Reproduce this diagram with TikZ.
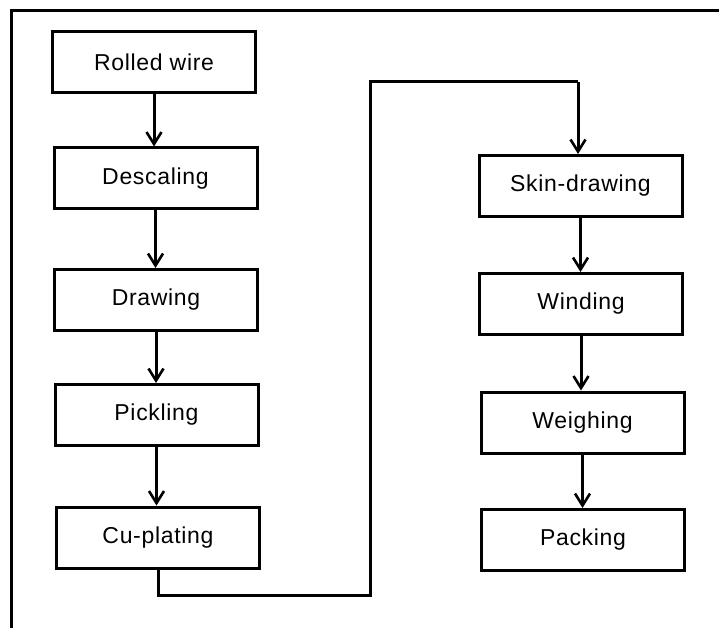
\documentclass[tikz,border=0pt]{standalone}
\usepackage{fontspec}
\setmainfont{Liberation Sans}[LetterSpace=3]
\usetikzlibrary{arrows.meta}
\begin{document}
\begin{tikzpicture}[x=1pt,y=-1pt,
  stepbox/.style={draw,line width=3pt,minimum width=203pt,minimum height=61pt,inner sep=0pt,font=\fontsize{23}{27}\selectfont},
  flow/.style={line width=3pt,-{Straight Barb[length=12pt,width=15pt,line width=2.6pt]}},
  link/.style={line width=3pt}]
\useasboundingbox (0,0) rectangle (719,628);
\draw[line width=3pt] (11,628) -- (11,11) -- (719,11);
\node[stepbox] (a) at (154,62) {Rolled wire};
\node[stepbox] (b) at (155.5,178.5) {Descaling};
\node[stepbox] (c) at (156,300) {Drawing};
\node[stepbox] (d) at (156.5,415) {Pickling};
\node[stepbox] (e) at (158,537.5) {Cu-plating};
\node[stepbox] (f) at (580.5,186) {Skin-drawing};
\node[stepbox] (g) at (581,304) {Winding};
\node[stepbox] (h) at (582.5,422.5) {Weighing};
\node[stepbox] (i) at (583,540) {Packing};
\draw[flow] (a.south) -- (a.south |- b.north);
\draw[flow] (b.south) -- (b.south |- c.north);
\draw[flow] (c.south) -- (c.south |- d.north);
\draw[flow] (d.south) -- (d.south |- e.north);
\coordinate (p1) at (158,595);
\coordinate (p2) at (370,595);
\coordinate (p3) at (370,82);
\coordinate (p4) at (578,82);
\draw[link,line join=miter] (e.south) -- (p1) -- (p2) -- (p3) -- (p4);
\draw[flow] (p4) -- (p4 |- f.north);
\draw[flow] (f.south) -- (f.south |- g.north);
\draw[flow] (g.south) -- (g.south |- h.north);
\draw[flow] (h.south) -- (h.south |- i.north);
\end{tikzpicture}
\end{document}
